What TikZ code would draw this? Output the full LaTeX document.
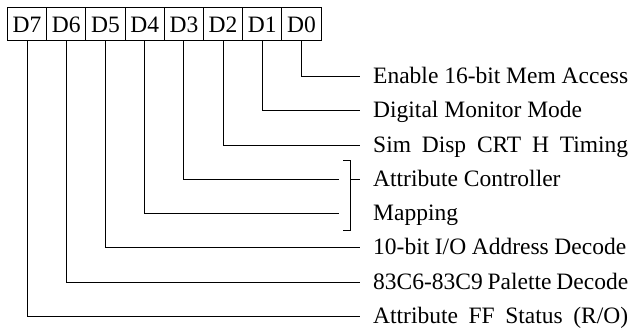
\documentclass[tikz,border=0pt]{standalone}
\usepackage{fontspec}
\setmainfont{Liberation Serif}
\begin{document}
\begin{tikzpicture}[x=1pt,y=-1pt,
  cell/.style={draw, line width=1pt, minimum width=39.2pt, minimum height=33pt, inner sep=0pt,
    font=\fontsize{23.5}{26}\selectfont, anchor=north west},
  lbl/.style={anchor=base west, inner sep=0pt, font=\fontsize{23.5}{26}\selectfont},
  wire/.style={line width=1pt}]
\useasboundingbox (0,0) rectangle (642,328);
\begin{scope}[yshift=2.5pt]
% register cells
\node[cell] (d7) at (7.0,10) {D7};
\node[cell] (d6) at (46.2,10) {D6};
\node[cell] (d5) at (85.4,10) {D5};
\node[cell] (d4) at (124.6,10) {D4};
\node[cell] (d3) at (163.8,10) {D3};
\node[cell] (d2) at (203.0,10) {D2};
\node[cell] (d1) at (242.2,10) {D1};
\node[cell] (d0) at (281.4,10) {D0};
% wire ends
\coordinate (e0) at (360,79);
\coordinate (e1) at (360,113.3);
\coordinate (e2) at (360,147.6);
\coordinate (e3) at (339,181.9);
\coordinate (e4) at (339,216.2);
\coordinate (e5) at (360,250.4);
\coordinate (e6) at (360,284.7);
\coordinate (e7) at (360,319);
% labels
\node[lbl] (l0) at (373,86) {\makebox[255pt][s]{Enable 16-bit Mem Access}};
\node[lbl] (l1) at (373,120.3) {Digital Monitor Mode};
\node[lbl] (l2) at (373,154.6) {\makebox[255pt][s]{Sim Disp CRT H Timing}};
\node[lbl] (l3) at (373,188.9) {Attribute Controller};
\node[lbl] (l4) at (373,223.2) {Mapping};
\node[lbl] (l5) at (373,257.4) {\makebox[253pt][s]{10-bit I/O Address Decode}};
\node[lbl] (l6) at (373,291.7) {\makebox[255pt][s]{83C6-83C9 Palette Decode}};
\node[lbl] (l7) at (373,326) {\makebox[255pt][s]{Attribute FF Status (R/O)}};
% connectors
\foreach \k in {0,...,7} \draw[wire] (d\k.south) |- (e\k);
% bracket
\coordinate (bt) at (350,163);
\coordinate (bb) at (350,233);
\coordinate (btl) at (343,163);
\coordinate (bbl) at (343,233);
\coordinate (bm) at (350,181.9);
\coordinate (bmr) at (360,181.9);
\draw[wire] (btl) -- (bt) -- (bb) -- (bbl);
\draw[wire] (bm) -- (bmr);
\end{scope}
\end{tikzpicture}
\end{document}
